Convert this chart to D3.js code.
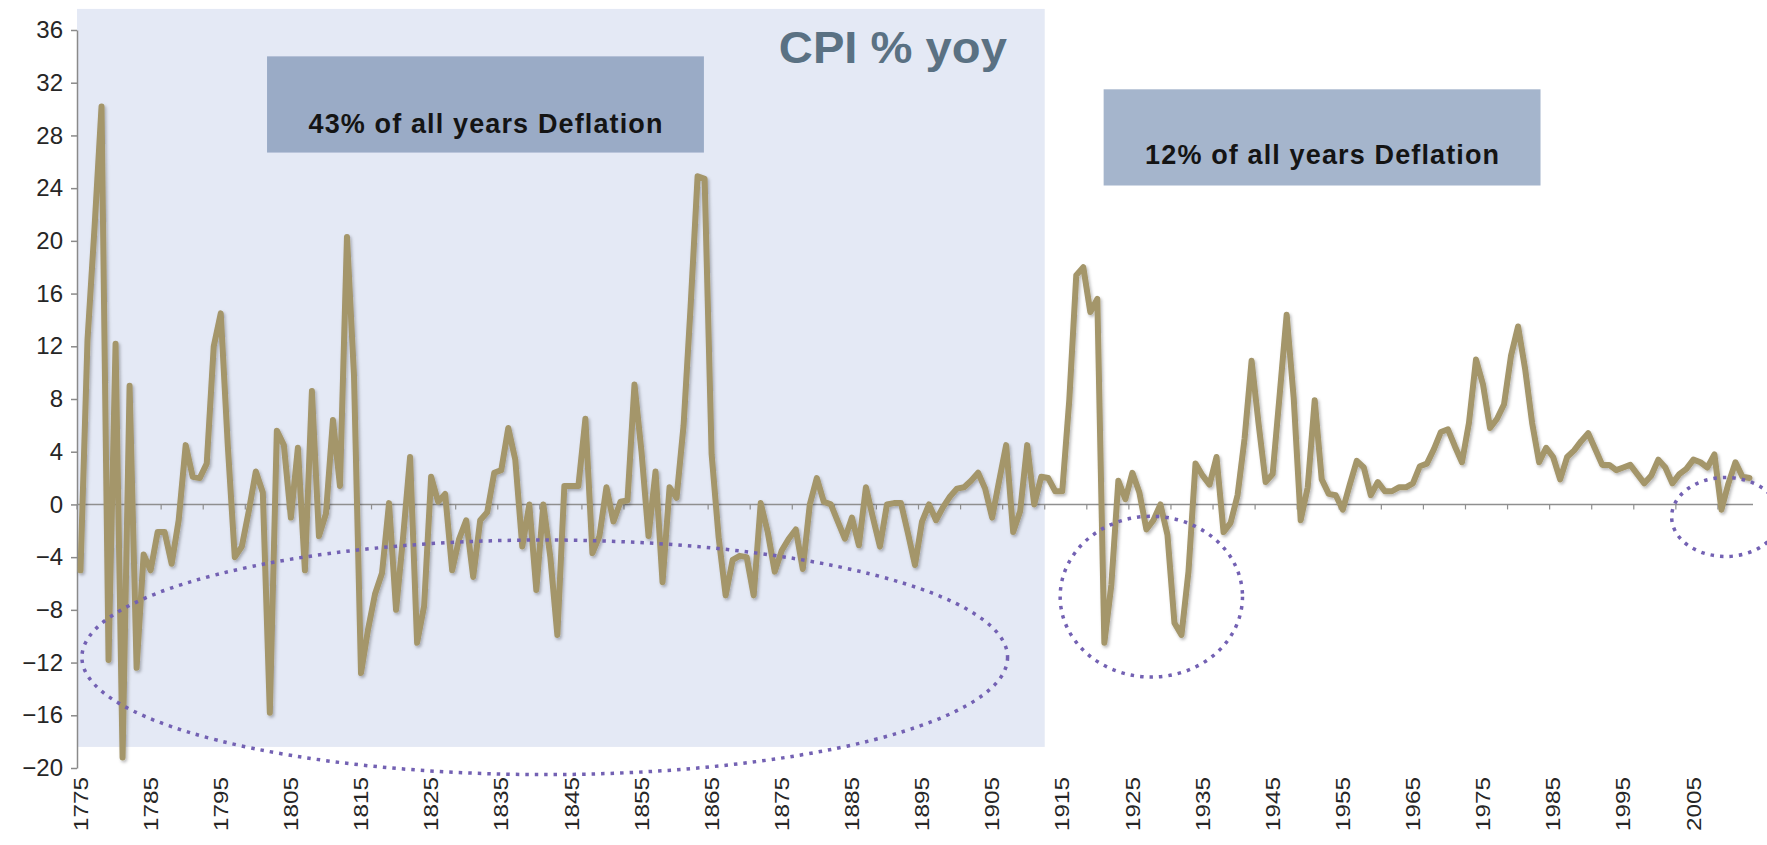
<!DOCTYPE html>
<html>
<head>
<meta charset="utf-8">
<script src="https://d3js.org/d3.v7.min.js"></script>
<style>
  body { margin: 0; background: #fff; }
  svg { display: block; font-family: "Liberation Sans", Arial, sans-serif; }
</style>
</head>
<body>
<div id="chart"></div>
<script>
const w = 1767; // SVG width
const h = 845;  // SVG height

const firstYear = 1775;

// CPI % yoy, 1775-1912 (the shaded era)
const cpiEarly = [
  -5.0, 12.5, 21.0, 30.2, -11.8, 12.2, -19.2, 9.0, -12.4, -3.8,      // 1775-1784
  -5.0, -2.1, -2.1, -4.5, -1.2, 4.5, 2.1, 2.0, 3.1, 12.0,            // 1785-1794
  14.5, 4.5, -4.0, -3.2, -0.5, 2.5, 0.9, -15.8, 5.6, 4.5,            // 1795-1804
  -1.0, 4.3, -5.0, 8.6, -2.4, -0.7, 6.4, 1.4, 20.3, 9.8,             // 1805-1814
  -12.8, -9.5, -6.8, -5.2, 0.1, -8.0, -2.5, 3.6, -10.5, -7.7,        // 1815-1824
  2.1, 0.2, 0.8, -5.0, -2.6, -1.2, -5.5, -1.2, -0.6, 2.4,            // 1825-1834
  2.6, 5.8, 3.4, -3.2, 0.0, -6.5, 0.0, -4.0, -9.9, 1.4,              // 1835-1844
  1.4, 1.4, 6.5, -3.7, -2.4, 1.3, -1.3, 0.2, 0.3, 9.1,               // 1845-1854
  4.0, -2.4, 2.5, -5.9, 1.3, 0.5, 6.0, 15.0, 24.9, 24.7,             // 1855-1864
  3.8, -2.5, -6.9, -4.2, -3.9, -4.0, -6.9, 0.1, -2.1, -5.1,          // 1865-1874
  -3.5, -2.6, -1.9, -4.9, 0.0, 2.0, 0.2, 0.0, -1.3, -2.6,            // 1875-1884
  -1.0, -3.1, 1.3, -1.0, -3.2, 0.0, 0.1, 0.1, -2.2, -4.6,            // 1885-1894
  -1.3, 0.0, -1.2, -0.2, 0.6, 1.2, 1.3, 1.8, 2.4, 1.2,               // 1895-1904
  -1.0, 1.8, 4.5, -2.1, -0.5, 4.5, 0.0, 2.1                          // 1905-1912
];

// CPI % yoy, 1913-2013
const cpiModern = [
  2.0, 1.0, 1.0, 7.9, 17.4, 18.0, 14.6, 15.6, -10.5, -6.1,           // 1913-1922
  1.8, 0.4, 2.4, 0.9, -1.9, -1.2, 0.0, -2.3, -9.0, -9.9,             // 1923-1932
  -5.1, 3.1, 2.2, 1.5, 3.6, -2.1, -1.4, 0.7, 5.0, 10.9,              // 1933-1942
  6.1, 1.7, 2.3, 8.3, 14.4, 8.1, -1.2, 1.3, 7.9, 1.9,                // 1943-1952
  0.8, 0.7, -0.4, 1.5, 3.3, 2.8, 0.7, 1.7, 1.0, 1.0,                 // 1953-1962
  1.3, 1.3, 1.6, 2.9, 3.1, 4.2, 5.5, 5.7, 4.4, 3.2,                  // 1963-1972
  6.2, 11.0, 9.1, 5.8, 6.5, 7.6, 11.3, 13.5, 10.3, 6.2,              // 1973-1982
  3.2, 4.3, 3.6, 1.9, 3.6, 4.1, 4.8, 5.4, 4.2, 3.0,                  // 1983-1992
  3.0, 2.6, 2.8, 3.0, 2.3, 1.6, 2.2, 3.4, 2.8, 1.6,                  // 1993-2002
  2.3, 2.7, 3.4, 3.2, 2.8, 3.8, -0.4, 1.6, 3.2, 2.1,                 // 2003-2012
  2.0                                                                // 2013
];

const yTicks = d3.range(-20, 37, 4);
const xLabelYears = d3.range(1775, 2006, 10);

// annotations, placed in data units (years / % yoy)
const shadedEra = { from: 1774.5, to: 1912.5, top: 37.6, bottom: -18.4 };
const noteBoxes = [
  { x0: 1801.6, x1: 1863.9, top: 34.0, bottom: 26.7, text: "43% of all years Deflation", baseline: 28.2, fill: "#9aabc6" },
  { x0: 1920.9, x1: 1983.2, top: 31.5, bottom: 24.2, text: "12% of all years Deflation", baseline: 25.8, fill: "#a5b5cc" }
];
const deflationRings = [
  { cx: 1841.2, cy: -11.6, rx: 66, ry: 8.9 },
  { cx: 1927.7, cy: -7.0, rx: 13, ry: 6.1 },
  { cx: 2009.6, cy: -0.95, rx: 7.7, ry: 3.0 }
];

const values = cpiEarly.concat(cpiModern);
const dataset = values.map((v, i) => ({ year: firstYear + i, value: v }));
const lastYear = firstYear + values.length - 1;

const xScale = d3.scaleLinear()
                 .domain([firstYear - 0.5, lastYear + 0.5])
                 .range([77, 1753]);

const yScale = d3.scaleLinear()
                 .domain([-20, 36])
                 .range([768, 30]);

const svg = d3.select("#chart")
              .append("svg")
              .attr("width", w)
              .attr("height", h);

svg.append("rect").attr("width", w).attr("height", h).attr("fill", "#fff");

const defs = svg.append("defs");
defs.append("filter")
    .attr("id", "shadow")
    .attr("x", "-5%").attr("y", "-5%").attr("width", "110%").attr("height", "110%")
    .append("feDropShadow")
    .attr("dx", 1.5).attr("dy", 2)
    .attr("stdDeviation", 1.6)
    .attr("flood-color", "#000")
    .attr("flood-opacity", 0.28);

// shaded pre-1913 era
svg.append("rect")
   .attr("x", xScale(shadedEra.from))
   .attr("y", yScale(shadedEra.top))
   .attr("width", xScale(shadedEra.to) - xScale(shadedEra.from))
   .attr("height", yScale(shadedEra.bottom) - yScale(shadedEra.top))
   .attr("fill", "#e4e9f5");

// note boxes
noteBoxes.forEach(b => {
  svg.append("rect")
     .attr("x", xScale(b.x0))
     .attr("y", yScale(b.top))
     .attr("width", xScale(b.x1) - xScale(b.x0))
     .attr("height", yScale(b.bottom) - yScale(b.top))
     .attr("fill", b.fill);
  svg.append("text")
     .attr("x", (xScale(b.x0) + xScale(b.x1)) / 2)
     .attr("y", yScale(b.baseline))
     .attr("text-anchor", "middle")
     .attr("font-size", 27)
     .attr("font-weight", "bold")
     .attr("fill", "#141414")
     .attr("textLength", 354)
     .attr("lengthAdjust", "spacing")
     .text(b.text);
});

// title
svg.append("text")
   .attr("x", xScale(1907.1))
   .attr("y", yScale(33.5))
   .attr("text-anchor", "end")
   .attr("font-size", 45)
   .attr("font-weight", "bold")
   .attr("fill", "#5a7183")
   .attr("textLength", 228)
   .attr("lengthAdjust", "spacingAndGlyphs")
   .text("CPI % yoy");

// y axis
const yAxis = d3.axisLeft(yScale).tickValues(yTicks).tickSize(6).tickSizeOuter(0).tickPadding(8);
const gy = svg.append("g")
   .attr("transform", "translate(" + xScale(firstYear - 0.5) + ",0)")
   .call(yAxis);
gy.attr("font-family", null).attr("font-size", 24);
gy.select(".domain").attr("stroke", "#8a8a8a").attr("stroke-width", 1.5);
gy.selectAll(".tick line").attr("stroke", "#8a8a8a").attr("stroke-width", 1.5);
gy.selectAll(".tick text").attr("fill", "#262626");

// zero line with small category ticks every 6 years
svg.append("line")
   .attr("x1", xScale(firstYear - 0.5))
   .attr("x2", xScale(lastYear + 0.5))
   .attr("y1", yScale(0))
   .attr("y2", yScale(0))
   .attr("stroke", "#8f8f8f")
   .attr("stroke-width", 1.5);

svg.selectAll(".minor-tick")
   .data(d3.range(firstYear - 0.5, lastYear + 0.6, 6))
   .enter()
   .append("line")
   .attr("class", "minor-tick")
   .attr("x1", d => xScale(d))
   .attr("x2", d => xScale(d))
   .attr("y1", yScale(0))
   .attr("y2", yScale(0) + 5)
   .attr("stroke", "#8f8f8f")
   .attr("stroke-width", 1.2);

// x labels, rotated
svg.selectAll(".x-label")
   .data(xLabelYears)
   .enter()
   .append("text")
   .attr("class", "x-label")
   .attr("transform", d => "translate(" + xScale(d) + ",777) rotate(-90)")
   .attr("text-anchor", "end")
   .attr("dy", "0.36em")
   .attr("font-size", 20)
   .attr("fill", "#262626")
   .attr("textLength", 54)
   .attr("lengthAdjust", "spacingAndGlyphs")
   .text(d => d);

// CPI line
const line = d3.line()
               .x(d => xScale(d.year))
               .y(d => yScale(d.value));

svg.append("path")
   .datum(dataset)
   .attr("d", line)
   .attr("fill", "none")
   .attr("stroke", "#a4966b")
   .attr("stroke-width", 6)
   .attr("stroke-linejoin", "round")
   .attr("stroke-linecap", "round")
   .attr("filter", "url(#shadow)");

// dotted deflation rings
svg.selectAll(".ring")
   .data(deflationRings)
   .enter()
   .append("ellipse")
   .attr("class", "ring")
   .attr("cx", d => xScale(d.cx))
   .attr("cy", d => yScale(d.cy))
   .attr("rx", d => xScale(d.cx + d.rx) - xScale(d.cx))
   .attr("ry", d => yScale(d.cy - d.ry) - yScale(d.cy))
   .attr("fill", "none")
   .attr("stroke", "#7361b3")
   .attr("stroke-width", 3.5)
   .attr("stroke-dasharray", "3.5 6");
</script>
</body>
</html>
